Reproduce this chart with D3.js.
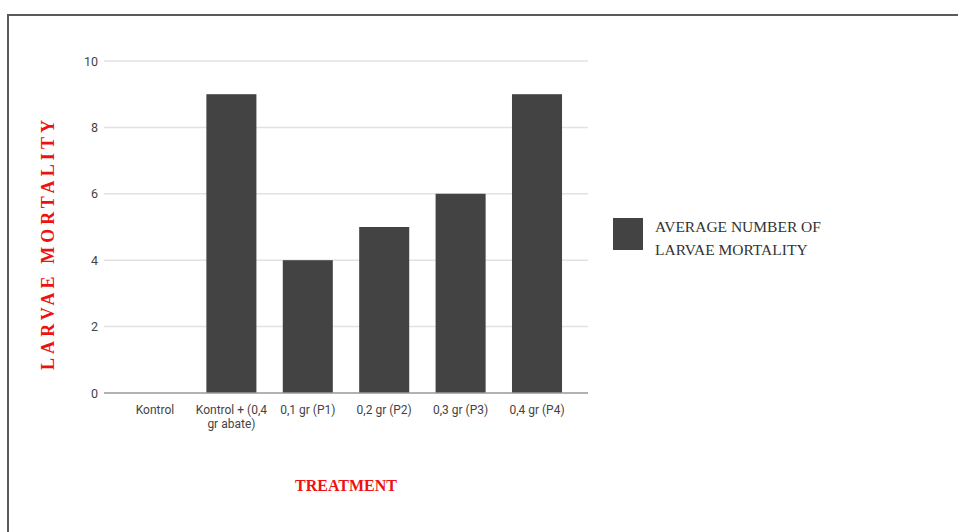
<!DOCTYPE html>
<html>
<head>
<meta charset="utf-8">
<script src="https://cdn.jsdelivr.net/npm/d3@7"></script>
<style>
  html, body { margin: 0; padding: 0; background: #fff; }
  svg { display: block; }
</style>
</head>
<body>
<svg id="chart" width="958" height="532"></svg>
<script>
const categories = ["Kontrol", "Kontrol + (0,4 gr abate)", "0,1 gr (P1)", "0,2 gr (P2)", "0,3 gr (P3)", "0,4 gr (P4)"];
const categoryLines = [["Kontrol"], ["Kontrol + (0,4", "gr abate)"], ["0,1 gr (P1)"], ["0,2 gr (P2)"], ["0,3 gr (P3)"], ["0,4 gr (P4)"]];
const values = [0, 9, 4, 5, 6, 9];
const yTicks = [0, 2, 4, 6, 8, 10];
const seriesName = ["AVERAGE NUMBER OF", "LARVAE MORTALITY"];
const yTitle = "LARVAE MORTALITY";
const xTitle = "TREATMENT";

const svg = d3.select("#chart");
const sans = "'Liberation Sans Narrow', 'Roboto', 'Liberation Sans', sans-serif";
const serif = "'Liberation Serif', 'DejaVu Serif', serif";

// outer frame (cropped on right/bottom)
svg.append("path")
  .attr("d", "M8,540 L8,15 L970,15")
  .attr("fill", "none").attr("stroke", "#5a5a5a").attr("stroke-width", 2);

const plotL = 104, plotR = 588, plotT = 61, plotB = 393;
const x = d3.scaleBand().domain(categories).range([plotL, plotR]).paddingInner(0.345).paddingOuter(0.34);
const y = d3.scaleLinear().domain([0, 10]).range([plotB, plotT]);

// gridlines
svg.append("g").selectAll("line").data(yTicks.filter(d => d > 0)).join("line")
  .attr("x1", plotL).attr("x2", plotR)
  .attr("y1", d => y(d)).attr("y2", d => y(d))
  .attr("stroke", "#e2e2e2").attr("stroke-width", 1.5);

// y axis labels
const yAxis = d3.axisLeft(y).tickValues(yTicks).tickSize(0).tickPadding(5);
const ga = svg.append("g").attr("transform", `translate(${plotL - 1},0)`).call(yAxis);
ga.select(".domain").remove();
ga.selectAll("text").attr("font-family", sans).attr("font-size", 12.5).attr("fill", "#444");

// bars
svg.append("g").selectAll("rect").data(values).join("rect")
  .attr("x", (d, i) => x(categories[i]))
  .attr("width", x.bandwidth())
  .attr("y", d => y(d))
  .attr("height", d => y(0) - y(d))
  .attr("fill", "#434343");

// baseline
svg.append("line").attr("x1", plotL).attr("x2", plotR)
  .attr("y1", y(0)).attr("y2", y(0))
  .attr("stroke", "#999").attr("stroke-width", 1.5);

// x labels
const xl = svg.append("g").selectAll("text").data(categories).join("text")
  .attr("x", d => x(d) + x.bandwidth() / 2)
  .attr("y", 414)
  .attr("text-anchor", "middle")
  .attr("font-family", sans).attr("font-size", 12).attr("fill", "#444");
xl.each(function(d, i) {
  const t = d3.select(this);
  categoryLines[i].forEach((line, j) => {
    t.append("tspan").attr("x", x(d) + x.bandwidth() / 2).attr("dy", j === 0 ? 0 : 14).text(line);
  });
});

// axis titles
svg.append("text")
  .attr("transform", "translate(54,245) rotate(-90)")
  .attr("text-anchor", "middle")
  .attr("font-family", serif).attr("font-weight", "bold").attr("font-size", 18)
  .attr("fill", "#ee1111")
  .attr("textLength", 250).attr("lengthAdjust", "spacing")
  .text(yTitle);

svg.append("text")
  .attr("x", 346).attr("y", 491)
  .attr("text-anchor", "middle")
  .attr("font-family", serif).attr("font-weight", "bold").attr("font-size", 16)
  .attr("fill", "#ee1111")
  .text(xTitle);

// legend
svg.append("rect").attr("x", 613).attr("y", 218).attr("width", 30).attr("height", 32).attr("fill", "#434343");
const lt = svg.append("text").attr("x", 655).attr("y", 232)
  .attr("font-family", serif).attr("font-size", 15.5).attr("fill", "#333");
seriesName.forEach((s, j) => lt.append("tspan").attr("x", 655).attr("dy", j === 0 ? 0 : 23).text(s));
</script>
</body>
</html>
